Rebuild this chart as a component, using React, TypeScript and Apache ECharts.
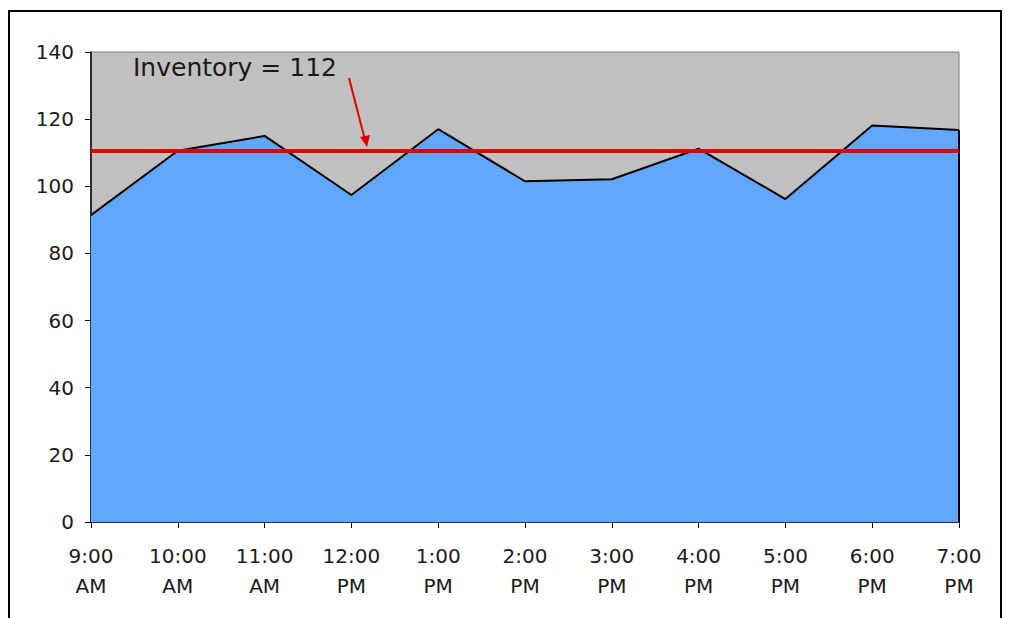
import React, { useEffect, useRef } from "react";
import * as echarts from "echarts";

const categories = ["9:00\nAM", "10:00\nAM", "11:00\nAM", "12:00\nPM", "1:00\nPM", "2:00\nPM", "3:00\nPM", "4:00\nPM", "5:00\nPM", "6:00\nPM", "7:00\nPM"];
const demand = [91.4, 110.6, 115.0, 97.4, 117.0, 101.5, 102.1, 111.2, 96.2, 118.1, 116.8];
const inventoryLevel = 110.5;
const inventoryLabel = "Inventory = 112";
const yTicks = { min: 0, max: 140, interval: 20 };

const FONT = "'DejaVu Sans', Verdana, sans-serif";

export default function App() {
  const ref = useRef<HTMLDivElement>(null);
  useEffect(() => {
    document.body.style.margin = "0";
    const chart = echarts.init(ref.current!, null, { renderer: "svg" });
    const last = categories.length - 1;
    chart.setOption({
      animation: false,
      textStyle: { fontFamily: FONT },
      grid: {
        left: 91,
        right: 51,
        top: 52,
        bottom: 96,
        show: true,
        backgroundColor: "#C0C0C0",
        borderColor: "#808080",
        borderWidth: 1,
      },
      xAxis: {
        type: "category",
        data: categories,
        boundaryGap: false,
        axisLine: { lineStyle: { color: "#000", width: 1.5 } },
        axisTick: { show: true, length: 6, lineStyle: { color: "#000" }, alignWithLabel: true },
        axisLabel: {
          color: "#1a1a1a",
          fontSize: 20,
          lineHeight: 30,
          margin: 19,
          fontFamily: FONT,
          interval: 0,
        },
        splitLine: { show: false },
      },
      yAxis: {
        type: "value",
        min: yTicks.min,
        max: yTicks.max,
        interval: yTicks.interval,
        axisLine: { show: true, lineStyle: { color: "#000", width: 1.5 } },
        axisTick: { show: true, length: 6, lineStyle: { color: "#000" } },
        axisLabel: { color: "#1a1a1a", fontSize: 20, margin: 17, fontFamily: FONT },
        splitLine: { show: false },
      },
      series: [
        {
          type: "line",
          data: demand,
          symbol: "none",
          lineStyle: { color: "#000", width: 2 },
          areaStyle: { color: "#61A6FF", opacity: 1 },
          z: 2,
          markLine: {
            silent: true,
            symbol: ["none", "none"],
            label: { show: false },
            data: [
              [
                { coord: [last, 0], lineStyle: { color: "#000", width: 2, type: "solid" } },
                { coord: [last, demand[last]] },
              ],
              [
                { coord: [0, inventoryLevel], lineStyle: { color: "#E00000", width: 4, type: "solid" } },
                { coord: [last, inventoryLevel] },
              ],
            ],
          },
        },
      ],
      graphic: [
        {
          type: "rect",
          shape: { x: 9, y: 11, width: 992, height: 640 },
          style: { fill: "none", stroke: "#000", lineWidth: 2 },
          silent: true,
        },
        {
          type: "text",
          left: 133,
          top: 55,
          style: { text: inventoryLabel, fontSize: 25, fontFamily: FONT, fill: "#1a1a1a" },
          z: 10,
        },
        {
          type: "line",
          shape: { x1: 349, y1: 78, x2: 365, y2: 140 },
          style: { stroke: "#E00000", lineWidth: 2 },
          z: 10,
        },
        {
          type: "polygon",
          shape: { points: [[360, 137], [370, 135], [367, 147]] },
          style: { fill: "#E00000" },
          z: 10,
        },
      ],
    });
    return () => chart.dispose();
  }, []);
  return <div ref={ref} style={{ width: 1010, height: 618 }} />;
}
